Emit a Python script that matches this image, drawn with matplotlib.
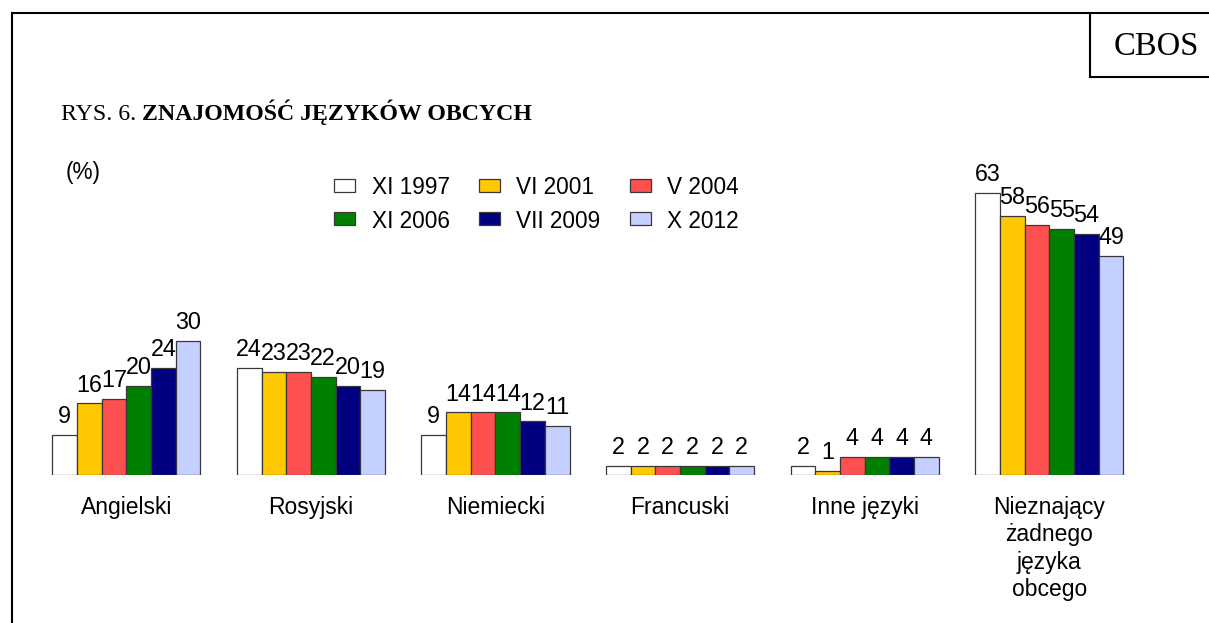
import matplotlib
matplotlib.use("Agg")
import matplotlib.pyplot as plt
import numpy as np
from matplotlib.lines import Line2D
from matplotlib.patches import Rectangle

categories = ["Angielski", "Rosyjski", "Niemiecki", "Francuski", "Inne języki",
              "Nieznający\nżadnego\njęzyka\nobcego"]
series_labels = ["XI 1997", "VI 2001", "V 2004", "XI 2006", "VII 2009", "X 2012"]
xi_1997 = [9, 24, 9, 2, 2, 63]
vi_2001 = [16, 23, 14, 2, 1, 58]
v_2004 = [17, 23, 14, 2, 4, 56]
xi_2006 = [20, 22, 14, 2, 4, 55]
vii_2009 = [24, 20, 12, 2, 4, 54]
x_2012 = [30, 19, 11, 2, 4, 49]
series_values = [xi_1997, vi_2001, v_2004, xi_2006, vii_2009, x_2012]
colors = ["#FFFFFF", "#FFC800", "#FF5050", "#008000", "#000080", "#C4D0FF"]

W, H = 1209, 623
fig = plt.figure(figsize=(W / 100, H / 100), dpi=100)
plt.rcParams['font.family'] = ['Liberation Sans', 'DejaVu Sans']

def fx(px):
    return px / W

def fy(py):
    return 1 - py / H

# axes: baseline at y=475 px, 4.4714 px per unit
ax_left, ax_right = 34, 34 + 6 * 184.6
ax = fig.add_axes([fx(ax_left), fy(475), (ax_right - ax_left) / W, 313 / H])
ax.set_xlim(-0.5, 5.5)
ax.set_ylim(0, 70)
for s in ax.spines.values():
    s.set_visible(False)
ax.set_yticks([])

x = np.arange(len(categories))
bw = 24.67 / 184.6
n = len(series_values)
for i, (vals, col, lab) in enumerate(zip(series_values, colors, series_labels)):
    pos = x + (i - (n - 1) / 2) * bw
    ax.bar(pos, vals, width=bw, color=col, edgecolor="#383838", linewidth=0.9, label=lab)
    for px_, v in zip(pos, vals):
        ax.annotate(str(v), (px_, v), xytext=(0, 8.5), textcoords="offset points",
                    ha="center", va="baseline", fontsize=16.8, color="black")

ax.set_xticks(x, categories)
ax.tick_params(axis="x", length=0, pad=15, labelsize=16.5)
for t in ax.get_xticklabels():
    t.set_linespacing(1.25)
    t.set_multialignment("center")

# legend (manual, in pixel layout)
col_sq = [334.3, 479, 630]
row_cy = [185, 218.5]
for i, (lab, col) in enumerate(zip(series_labels, colors)):
    r, c = divmod(i, 3)
    sx, cy = col_sq[c], row_cy[r]
    fig.add_artist(Rectangle((fx(sx), fy(cy + 6.5)), 20.7 / W, 13 / H,
                             transform=fig.transFigure, facecolor=col,
                             edgecolor="#383838", linewidth=0.9))
    fig.text(fx(sx + 37.4), fy(cy), lab, ha="left", va="center_baseline", fontsize=16.3)

fig.text(fx(66), fy(170), "(%)", ha="left", va="center_baseline", fontsize=16.3)

# title
t1 = fig.text(fx(61), fy(120), "RYS. 6. ", ha="left", va="baseline",
              fontsize=17.2, family="Liberation Serif")
fig.canvas.draw()
r = fig.canvas.get_renderer()
bb = t1.get_window_extent(r)
fig.text(bb.x1 / W, fy(120), "ZNAJOMOŚĆ JĘZYKÓW OBCYCH", ha="left", va="baseline",
         fontsize=17.2, family="Liberation Serif", fontweight="bold")

fig.text(fx(1156), fy(43), "CBOS", ha="center", va="center_baseline",
         fontsize=23.5, family="Liberation Serif")

# frame lines
lw = 1.5
fig.add_artist(Line2D([fx(11.5), 1], [fy(13), fy(13)], color="black", lw=lw,
                      transform=fig.transFigure))
fig.add_artist(Line2D([fx(11.5), fx(11.5)], [fy(13), 0], color="black", lw=lw,
                      transform=fig.transFigure))
fig.add_artist(Line2D([fx(1089.5), fx(1089.5)], [fy(13), fy(77)], color="black", lw=lw,
                      transform=fig.transFigure))
fig.add_artist(Line2D([fx(1089.5), 1], [fy(77), fy(77)], color="black", lw=lw,
                      transform=fig.transFigure))

fig.savefig("out.png", dpi=100)
